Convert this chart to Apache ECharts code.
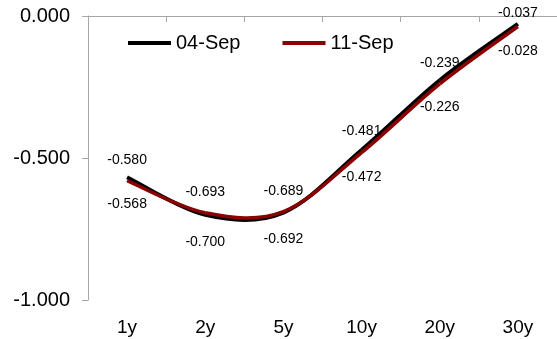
<!DOCTYPE html>
<html>
<head>
<meta charset="utf-8">
<style>
  html, body { margin: 0; padding: 0; background: #fff; }
  #chart { width: 557px; height: 339px; }
</style>
<script src="https://cdn.jsdelivr.net/npm/echarts@6/dist/echarts.min.js"></script>
</head>
<body>
<div id="chart"></div>
<script>
// Yield curve tenors and the two snapshot dates
const tenors = ['1y', '2y', '5y', '10y', '20y', '30y'];
const sep04 = [-0.568, -0.700, -0.692, -0.472, -0.226, -0.028];
const sep11 = [-0.580, -0.693, -0.689, -0.481, -0.239, -0.037];
const yTicks = [-1.0, -0.5, 0.0];

const FONT = '"Liberation Sans", Arial, sans-serif';
const AXIS_GREY = '#a6a6a6';

const chart = echarts.init(document.getElementById('chart'), null, { renderer: 'canvas' });

// Curve through the data points with Catmull-Rom style tangents (cubic Bezier pieces),
// each piece placed with the axes' own coordinate mapping. Value labels sit above or below.
function curveSeries(name, values, color, width, labelDy, lastLabelDy, z) {
  return {
    name: name,
    type: 'custom',
    xAxisIndex: 0,
    yAxisIndex: 0,
    z: z,
    itemStyle: { color: color },
    encode: { x: 0, y: 1 },
    data: values.map((v, i) => [i, v]),
    renderItem: function (params, api) {
      const i = params.dataIndex;
      const n = values.length;
      const pt = k => api.coord([Math.max(0, Math.min(n - 1, k)), values[Math.max(0, Math.min(n - 1, k))]]);
      const children = [];
      const p1 = pt(i);
      if (i < n - 1) {
        const p0 = pt(i - 1), p2 = pt(i + 1), p3 = pt(i + 2);
        children.push({
          type: 'bezierCurve',
          shape: {
            x1: p1[0], y1: p1[1],
            cpx1: p1[0] + (p2[0] - p0[0]) / 6, cpy1: p1[1] + (p2[1] - p0[1]) / 6,
            cpx2: p2[0] - (p3[0] - p1[0]) / 6, cpy2: p2[1] - (p3[1] - p1[1]) / 6,
            x2: p2[0], y2: p2[1]
          },
          style: { stroke: color, lineWidth: width, fill: 'none', lineCap: 'butt' }
        });
      }
      const dy = (i === n - 1 && lastLabelDy != null) ? lastLabelDy : labelDy;
      children.push({
        type: 'text',
        x: p1[0],
        y: p1[1] + dy,
        z2: 10,
        style: {
          text: values[i].toFixed(3),
          fill: '#000',
          font: '14px ' + FONT,
          align: 'center',
          verticalAlign: 'middle',
          textAlign: 'center',
          textVerticalAlign: 'middle'
        }
      });
      return { type: 'group', children: children };
    }
  };
}

chart.setOption({
  animation: false,
  backgroundColor: '#ffffff',
  textStyle: { fontFamily: FONT },
  grid: { left: 88, top: 16, width: 472, bottom: 39, containLabel: false },
  legend: {
    left: 123,
    top: 28,
    icon: 'rect',
    itemWidth: 43,
    itemHeight: 4,
    itemGap: 42,
    textStyle: { fontFamily: FONT, fontSize: 20, color: '#000' },
    data: ['04-Sep', '11-Sep']
  },
  xAxis: [
    {
      type: 'category',
      data: tenors,
      position: 'bottom',
      boundaryGap: true,
      axisLine: { show: false, onZero: false },
      axisTick: { show: false },
      axisLabel: { fontFamily: FONT, fontSize: 19, color: '#000', margin: 18 },
      splitLine: { show: false }
    },
    {
      type: 'category',
      data: tenors,
      position: 'top',
      boundaryGap: true,
      axisLine: { show: true, onZero: false, lineStyle: { color: AXIS_GREY, width: 1 } },
      axisTick: { show: true, inside: true, length: 6, lineStyle: { color: AXIS_GREY } },
      axisLabel: { show: false },
      splitLine: { show: false }
    }
  ],
  yAxis: {
    type: 'value',
    min: yTicks[0],
    max: yTicks[yTicks.length - 1],
    interval: 0.5,
    axisLine: { show: true, lineStyle: { color: AXIS_GREY, width: 1 } },
    axisTick: { show: true, length: 6, lineStyle: { color: AXIS_GREY } },
    splitLine: { show: false },
    axisLabel: {
      fontFamily: FONT, fontSize: 20, color: '#000', margin: 18,
      formatter: v => v.toFixed(3)
    }
  },
  series: [
    curveSeries('04-Sep', sep04, '#000000', 4, 27, null, 2),
    curveSeries('11-Sep', sep11, '#8b0000', 3.5, -21, -13, 3)
  ]
});
</script>
</body>
</html>
